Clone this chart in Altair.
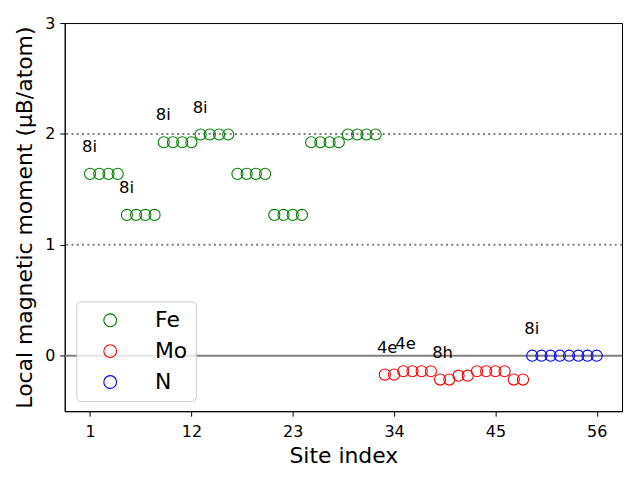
import altair as alt
import pandas as pd

# ---- data ----
fe_sites = list(range(1, 33))
fe_moments = [1.64, 1.64, 1.64, 1.64, 1.27, 1.27, 1.27, 1.27,
              1.925, 1.925, 1.925, 1.925, 1.995, 1.995, 1.995, 1.995,
              1.64, 1.64, 1.64, 1.64, 1.27, 1.27, 1.27, 1.27,
              1.925, 1.925, 1.925, 1.925, 1.995, 1.995, 1.995, 1.995]
mo_sites = list(range(33, 49))
mo_moments = [-0.17, -0.17, -0.14, -0.14, -0.14, -0.14, -0.215, -0.215,
              -0.18, -0.18, -0.14, -0.14, -0.14, -0.14, -0.215, -0.215]
n_sites = list(range(49, 57))
n_moments = [0.0, 0.0, 0.0, 0.0, 0.0, 0.0, 0.0, 0.0]

label_sites = [1, 5, 9, 13, 33, 35, 39, 49]
label_moments = [1.64, 1.27, 1.925, 1.995, -0.17, -0.14, -0.215, 0.0]
label_texts = ["8i", "8i", "8i", "8i", "4e", "4e", "8h", "8i"]

ref_solid = [0.0]
ref_dotted = [1.0, 2.0]

x_ticks = [1, 12, 23, 34, 45, 56]
y_ticks = [0, 1, 2, 3]

elements = ["Fe", "Mo", "N"]
colors = ["green", "red", "blue"]

# ---- tables ----
df = pd.DataFrame({
    "site": fe_sites + mo_sites + n_sites,
    "moment": fe_moments + mo_moments + n_moments,
    "element": ["Fe"] * len(fe_sites) + ["Mo"] * len(mo_sites) + ["N"] * len(n_sites),
})
labels = pd.DataFrame({"site": label_sites, "moment": label_moments, "label": label_texts})
solid = pd.DataFrame({"moment": ref_solid})
dotted = pd.DataFrame({"moment": ref_dotted})

FONT = "DejaVu Sans"

x_enc = alt.X("site:Q",
              scale=alt.Scale(domain=[-1.75, 58.75], nice=False, zero=False),
              axis=alt.Axis(values=x_ticks, title="Site index", format="d"))
y_enc = alt.Y("moment:Q",
              scale=alt.Scale(domain=[-0.5, 3], nice=False, zero=False),
              axis=alt.Axis(values=y_ticks, title="Local magnetic moment (μB/atom)", format="d"))

zero_line = alt.Chart(solid).mark_rule(color="gray", strokeWidth=2).encode(y=y_enc)
dot_lines = alt.Chart(dotted).mark_rule(color="gray", strokeWidth=2, strokeDash=[2, 3.3]).encode(y=y_enc)

points = alt.Chart(df).mark_point(shape="circle", filled=False, size=125, strokeWidth=1.1, opacity=1).encode(
    x=x_enc,
    y=y_enc,
    color=alt.Color("element:N",
                    scale=alt.Scale(domain=elements, range=colors),
                    legend=alt.Legend(title=None, orient="none", legendX=11.7, legendY=279.7,
                                      fillColor="rgba(255,255,255,0.8)", strokeColor="#cccccc",
                                      cornerRadius=4, padding=8, symbolOffset=15, labelOffset=34,
                                      rowPadding=9, symbolSize=165, symbolStrokeWidth=1.1,
                                      symbolType="circle", labelFontSize=22, labelFont=FONT,
                                      labelColor="black")),
)

texts = alt.Chart(labels).mark_text(align="left", baseline="middle", dx=-8, dy=-27,
                                    fontSize=16.5, font=FONT, color="black").encode(
    x=x_enc, y=y_enc, text="label:N")

chart = alt.layer(zero_line, dot_lines, points, texts).properties(
    width=560, height=390,
    autosize=alt.AutoSizeParams(type="none"),
    padding={"left": 57, "top": 14, "right": 10, "bottom": 60},
).configure_view(
    stroke="black", strokeWidth=1
).configure_axis(
    grid=False, domainColor="black", tickColor="black", tickSize=5,
    labelFont=FONT, labelFontSize=16, labelColor="black", labelPadding=5,
    titleFont=FONT, titleFontSize=22, titleFontWeight="normal", titleColor="black",
).configure_axisX(titlePadding=7, labelPadding=7).configure_axisY(titlePadding=8)

chart.save("out.html", embed_options={"renderer": "svg", "actions": False})
